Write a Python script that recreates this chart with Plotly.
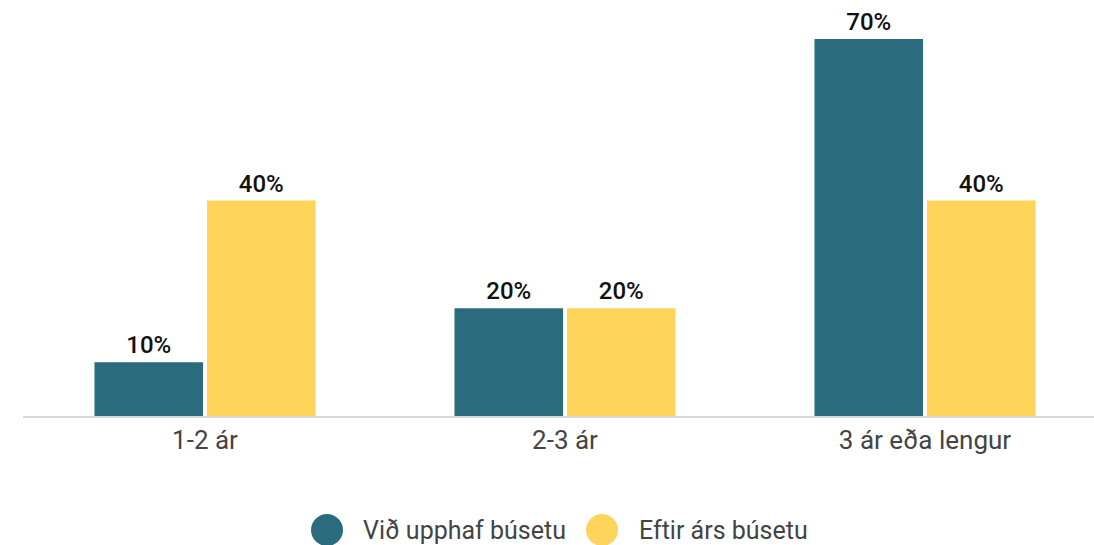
import plotly.graph_objects as go

categories = ["1-2 ár", "2-3 ár", "3 ár eða lengur"]
series_names = ["Við upphaf búsetu", "Eftir árs búsetu"]
start_values = [10, 20, 70]
after_values = [40, 20, 40]
colors = ["#2A6C7D", "#FFD45A"]

fig = go.Figure()
for name, vals, col in zip(series_names, [start_values, after_values], colors):
    fig.add_trace(go.Bar(
        x=categories, y=vals, name=name,
        marker=dict(color=col, line=dict(width=0)),
        text=[f"{v}%" for v in vals], textposition="outside",
        textfont=dict(family="Roboto", size=24, color="#111111", weight=500),
        cliponaxis=False, showlegend=False,
    ))

W, H = 1094, 545
ml, mr, mt, mb = 23, 0, 0, 129
pw, ph = W - ml - mr, H - mt - mb

# legend drawn manually (large circular swatches)
legend_items = [(327, 361), (602, 637)]
legend_y_px = 530
for (cx, tx), name, col in zip(legend_items, series_names, colors):
    fig.add_shape(type="circle", xref="paper", yref="paper",
                  xsizemode="pixel", ysizemode="pixel",
                  xanchor=(cx - ml) / pw, yanchor=-(legend_y_px - ph) / ph,
                  x0=-16, x1=16, y0=-16, y1=16,
                  fillcolor=col, line=dict(width=0))
    fig.add_annotation(text=name, xref="paper", yref="paper",
                       x=(tx - ml) / pw, y=-(legend_y_px - ph) / ph,
                       xanchor="left", yanchor="middle", showarrow=False,
                       font=dict(family="Roboto", size=25, color="#444444"))

fig.update_layout(
    width=W, height=H,
    margin=dict(l=ml, r=mr, t=mt, b=mb),
    plot_bgcolor="white", paper_bgcolor="white",
    barmode="group", bargap=0.375, bargroupgap=0.035,
    xaxis=dict(range=[-0.5056, 2.4694], showline=True, linecolor="#D9D9D9", linewidth=2,
               showgrid=False, ticks="",
               tickfont=dict(family="Roboto", size=26, color="#444444")),
    yaxis=dict(range=[0, 77.24], visible=False, showgrid=False),
    showlegend=False,
)

fig.write_html("out.html", config={"displayModeBar": False},
               post_script="document.body.style.margin='0';document.body.style.overflow='hidden';")
